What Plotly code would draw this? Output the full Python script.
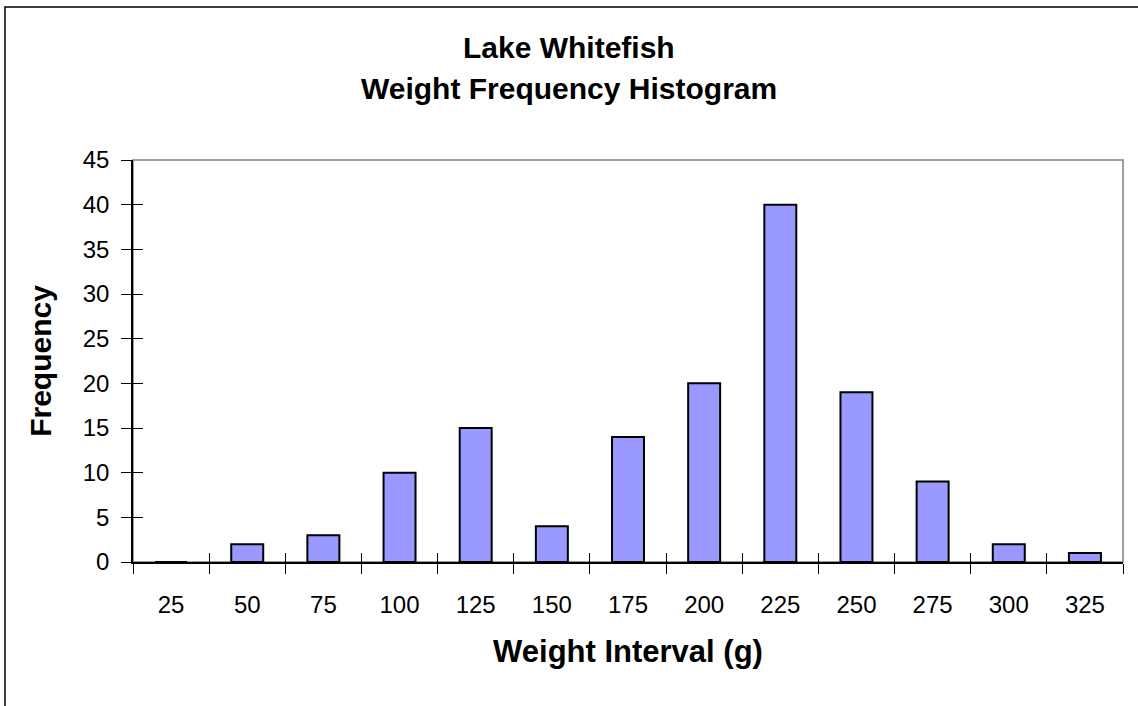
import plotly.graph_objects as go

# weight intervals (g) and counts
intervals = ["25", "50", "75", "100", "125", "150", "175", "200", "225", "250", "275", "300", "325"]
frequency = [0, 2, 3, 10, 15, 4, 14, 20, 40, 19, 9, 2, 1]

title_lines = ["Lake Whitefish", "Weight Frequency Histogram"]

FONT = "Liberation Sans, Arial, sans-serif"


def create_plot():
    fig = go.Figure()

    fig.add_trace(go.Bar(
        x=intervals, y=frequency,
        marker=dict(color="#9999FF", line=dict(color="black", width=2)),
        hoverinfo="x+y",
    ))
    # invisible copy so the overlay axes get the same categories (for crossing ticks)
    fig.add_trace(go.Scatter(
        x=intervals, y=frequency, xaxis="x2", yaxis="y2",
        mode="markers", marker=dict(opacity=0), hoverinfo="skip",
    ))

    axis_font = dict(family=FONT, size=24, color="black")
    cat_range = [-0.5, len(intervals) - 0.5]
    fig.update_layout(
        width=1138, height=706,
        margin=dict(l=133, r=15, t=160, b=144),
        paper_bgcolor="white", plot_bgcolor="white",
        showlegend=False,
        bargap=0.58,
        xaxis=dict(
            type="category", range=cat_range, showline=True, linecolor="black", linewidth=1.5,
            ticks="outside", tickson="boundaries", ticklen=10, tickcolor="black",
            showgrid=False, tickfont=axis_font, ticklabelstandoff=20,
            title=dict(text="<b>Weight Interval (g)</b>", standoff=24,
                       font=dict(family=FONT, size=31, color="black")),
        ),
        yaxis=dict(
            range=[0, 45], dtick=5, showline=True, linecolor="black", linewidth=1.5,
            ticks="outside", ticklen=10, tickcolor="black", showgrid=False,
            zeroline=False, tickfont=axis_font, ticklabelstandoff=7,
            title=dict(text="<b>Frequency</b>", standoff=22,
                       font=dict(family=FONT, size=30, color="black")),
        ),
        xaxis2=dict(
            type="category", range=cat_range, overlaying="x", anchor="y2",
            ticks="inside", tickson="boundaries", ticklen=9, tickcolor="black",
            showticklabels=False, showgrid=False, showline=False,
        ),
        yaxis2=dict(
            range=[0, 45], overlaying="y", anchor="x2",
            ticks="inside", ticklen=10, tickcolor="black", dtick=5,
            showticklabels=False, showgrid=False, showline=False, zeroline=False,
        ),
        shapes=[
            # grey plot-area frame (top/right visible)
            dict(type="rect", xref="paper", yref="paper", x0=0, x1=1, y0=0, y1=1,
                 line=dict(color="#808080", width=1.5), layer="below"),
            # outer chart border (left/top edges visible)
            dict(type="rect", xref="paper", yref="paper", x0=-0.1293, x1=1.2, y0=-0.5, y1=1.3806,
                 line=dict(color="black", width=1.5), layer="below"),
        ],
    )

    # two title lines, spaced wider than plotly's <br> would give
    for text, ypos in zip(title_lines, [1.280, 1.178]):
        fig.add_annotation(
            text="<b>%s</b>" % text, xref="paper", yref="paper",
            x=0.4404, y=ypos, xanchor="center", yanchor="middle", showarrow=False,
            font=dict(family=FONT, size=30, color="black"),
        )
    return fig


def main():
    fig = create_plot()
    # drop the browser's default body margin so the chart sits at the page origin
    fig.write_html("out.html", config={"displayModeBar": False},
                   post_script="document.body.style.margin='0';")


if __name__ == "__main__":
    main()
